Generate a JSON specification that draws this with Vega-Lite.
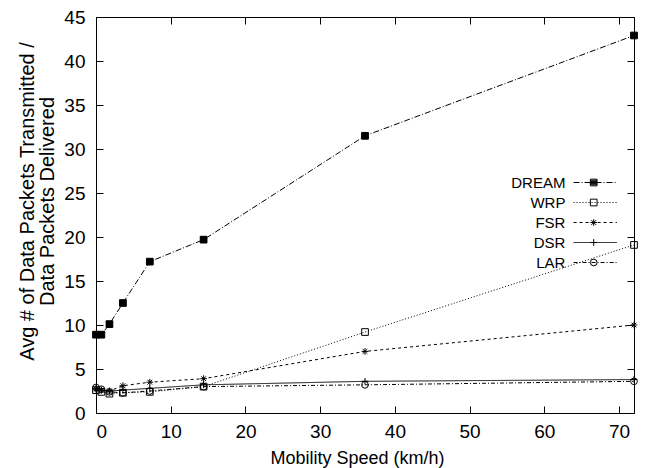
{
  "$schema": "https://vega.github.io/schema/vega-lite/v6.json",
  "width": 538,
  "height": 396,
  "autosize": {"type": "none"},
  "padding": {"left": 96, "top": 17, "right": 11, "bottom": 55},
  "background": "white",
  "config": {
    "font": "Liberation Sans",
    "view": {"stroke": "black", "strokeWidth": 1},
    "axis": {
      "grid": false,
      "domain": false,
      "offset": -7,
      "tickColor": "black",
      "tickSize": 7,
      "tickWidth": 1,
      "labelFont": "Liberation Sans",
      "labelFontSize": 19,
      "labelColor": "black",
      "titleFont": "Liberation Sans",
      "titleFontSize": 18,
      "titleFontWeight": "normal",
      "titleColor": "black"
    },
    "legend": {
      "labelFont": "Liberation Sans",
      "labelFontSize": 15,
      "labelColor": "black",
      "padding": 0,
      "rowPadding": 4
    }
  },
  "data": {
    "values": [
      {"speed": 0, "value": 8.9, "protocol": "DREAM"},
      {"speed": 0.72, "value": 8.9, "protocol": "DREAM"},
      {"speed": 1.8, "value": 10.1, "protocol": "DREAM"},
      {"speed": 3.6, "value": 12.5, "protocol": "DREAM"},
      {"speed": 7.2, "value": 17.2, "protocol": "DREAM"},
      {"speed": 14.4, "value": 19.7, "protocol": "DREAM"},
      {"speed": 36, "value": 31.5, "protocol": "DREAM"},
      {"speed": 72, "value": 42.9, "protocol": "DREAM"},
      {"speed": 0, "value": 2.6, "protocol": "WRP"},
      {"speed": 0.72, "value": 2.4, "protocol": "WRP"},
      {"speed": 1.8, "value": 2.2, "protocol": "WRP"},
      {"speed": 3.6, "value": 2.3, "protocol": "WRP"},
      {"speed": 7.2, "value": 2.4, "protocol": "WRP"},
      {"speed": 14.4, "value": 3.0, "protocol": "WRP"},
      {"speed": 36, "value": 9.2, "protocol": "WRP"},
      {"speed": 72, "value": 19.1, "protocol": "WRP"},
      {"speed": 0, "value": 2.7, "protocol": "FSR"},
      {"speed": 0.72, "value": 2.6, "protocol": "FSR"},
      {"speed": 1.8, "value": 2.5, "protocol": "FSR"},
      {"speed": 3.6, "value": 3.1, "protocol": "FSR"},
      {"speed": 7.2, "value": 3.5, "protocol": "FSR"},
      {"speed": 14.4, "value": 3.9, "protocol": "FSR"},
      {"speed": 36, "value": 7.0, "protocol": "FSR"},
      {"speed": 72, "value": 10.0, "protocol": "FSR"},
      {"speed": 0, "value": 2.8, "protocol": "DSR"},
      {"speed": 0.72, "value": 2.6, "protocol": "DSR"},
      {"speed": 1.8, "value": 2.5, "protocol": "DSR"},
      {"speed": 3.6, "value": 2.6, "protocol": "DSR"},
      {"speed": 7.2, "value": 2.8, "protocol": "DSR"},
      {"speed": 14.4, "value": 3.2, "protocol": "DSR"},
      {"speed": 36, "value": 3.6, "protocol": "DSR"},
      {"speed": 72, "value": 3.8, "protocol": "DSR"},
      {"speed": 0, "value": 2.9, "protocol": "LAR"},
      {"speed": 0.72, "value": 2.7, "protocol": "LAR"},
      {"speed": 1.8, "value": 2.4, "protocol": "LAR"},
      {"speed": 3.6, "value": 2.3, "protocol": "LAR"},
      {"speed": 7.2, "value": 2.5, "protocol": "LAR"},
      {"speed": 14.4, "value": 3.0, "protocol": "LAR"},
      {"speed": 36, "value": 3.2, "protocol": "LAR"},
      {"speed": 72, "value": 3.6, "protocol": "LAR"}
    ]
  },
  "layer": [
    {
      "mark": {"type": "line", "color": "black", "strokeWidth": 1},
      "encoding": {
        "x": {
          "field": "speed", "type": "quantitative",
          "scale": {"domain": [0, 72], "nice": false, "zero": false},
          "axis": {"values": [0, 10, 20, 30, 40, 50, 60, 70], "labelPadding": 9, "title": "Mobility Speed (km/h)", "titlePadding": 8, "titleX": 261}
        },
        "y": {
          "field": "value", "type": "quantitative",
          "scale": {"domain": [0, 45], "nice": false},
          "axis": {"values": [0, 5, 10, 15, 20, 25, 30, 35, 40, 45], "labelPadding": 11, "title": ["Avg # of Data Packets Transmitted /", "Data Packets Delivered"], "titleFontSize": 20, "titleLineHeight": 20, "titlePadding": 6, "titleY": 184}
        },
        "strokeDash": {
          "field": "protocol", "type": "nominal",
          "scale": {"domain": ["DREAM", "WRP", "FSR", "DSR", "LAR"], "range": [[6, 2, 1, 2], [1, 2], [3, 3], [1, 0], [4, 2, 1, 2]]},
          "legend": {"orient": "none", "legendX": 491.7, "legendY": 158, "title": null, "symbolType": "M-12,0L12,0", "symbolSize": 13, "symbolStrokeColor": "black", "symbolFillColor": "transparent", "symbolStrokeWidth": 1, "labelAlign": "right", "labelOffset": -37.3}
        }
      }
    },
    {
      "mark": {"type": "point", "filled": false, "stroke": "black", "strokeWidth": 1, "opacity": 1, "size": 45},
      "encoding": {
        "x": {"field": "speed", "type": "quantitative", "axis": {"orient": "top", "labels": false, "title": null, "values": [0, 10, 20, 30, 40, 50, 60, 70]}},
        "y": {"field": "value", "type": "quantitative", "axis": {"orient": "right", "labels": false, "title": null, "values": [0, 5, 10, 15, 20, 25, 30, 35, 40, 45]}},
        "shape": {
          "field": "protocol", "type": "nominal",
          "sort": ["DREAM", "WRP", "FSR", "DSR", "LAR"],
          "scale": {"range": ["M-1,-1H1V1H-1Z M-1,-0.66H1 M-1,-0.33H1 M-1,0H1 M-1,0.33H1 M-1,0.66H1", "square", "M-1,0L1,0M0,-1L0,1M-0.7,-0.7L0.7,0.7M-0.7,0.7L0.7,-0.7", "M-1,0L1,0M0,-1L0,1", "circle"]},
          "legend": {"orient": "none", "legendX": 490.2, "legendY": 158, "title": null, "symbolSize": 45, "symbolStrokeColor": "black", "symbolStrokeWidth": 1, "labelOpacity": 0, "labelExpr": "' '"}
        },
        "fill": {"condition": {"test": "datum.protocol === 'DREAM'", "value": "black"}, "value": "transparent"}
      }
    }
  ],
  "resolve": {"axis": {"x": "independent", "y": "independent"}}
}
